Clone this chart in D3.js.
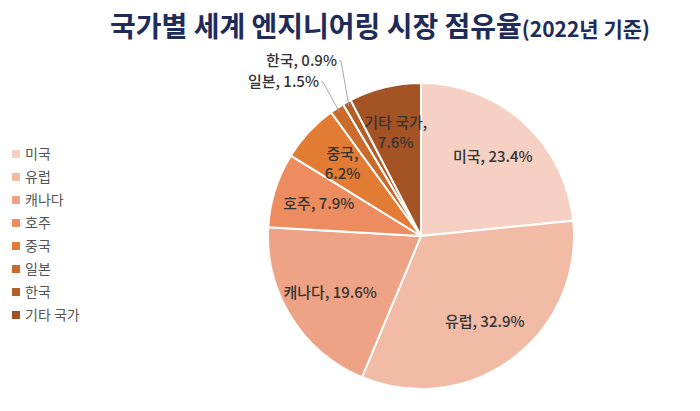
<!DOCTYPE html>
<html>
<head>
  <meta charset="utf-8">
  <script src="https://d3js.org/d3.v7.min.js"></script>
  <style>body{margin:0;background:#fff;font-family:"Noto Sans CJK KR",sans-serif;}</style>
</head>
<body>
  <div id="view"></div>
  <script>
    var categories = ["미국", "유럽", "캐나다", "호주", "중국", "일본", "한국", "기타 국가"];
    var values = [23.4, 32.9, 19.6, 7.9, 6.2, 1.5, 0.9, 7.6];
    var colors = ["#F6D1C3", "#F2BBA6", "#EEA386", "#EC8C5F", "#E27B33", "#CB6B2B", "#B35E27", "#A45424"];

    var width = 700, height = 411;
    var cx = 421, cy = 236, r = 153;

    var svg = d3.select("#view").append("svg")
      .attr("width", width).attr("height", height);

    svg.append("text").attr("x", 380).attr("y", 37).attr("text-anchor", "middle")
      .attr("fill", "#1F2B58").attr("font-size", 28).attr("font-weight", "bold")
      .text("국가별 세계 엔지니어링 시장 점유율")
      .append("tspan").attr("font-size", 21).text("(2022년 기준)");

    var data = categories.map(function (c, i) { return { name: c, value: values[i] }; });
    var pie = d3.pie().sort(null).value(function (d) { return d.value; });
    var arcs = pie(data);
    var arc = d3.arc().innerRadius(0).outerRadius(r);

    var g = svg.append("g").attr("transform", "translate(" + cx + "," + cy + ")");
    g.selectAll("path").data(arcs).enter().append("path")
      .attr("d", arc)
      .attr("fill", function (d, i) { return colors[i]; })
      .attr("stroke", "#fff").attr("stroke-width", 2);

    var inner = d3.arc().innerRadius(r * 0.7).outerRadius(r * 0.7);
    var twoLine = { "중국": 1, "기타 국가": 1 };
    arcs.forEach(function (d, i) {
      if (d.data.value < 2) return;
      var p = inner.centroid(d);
      var t = g.append("text").attr("text-anchor", "middle")
        .attr("fill", "#333").attr("font-size", 15).attr("font-weight", 500);
      var lbl = d.data.value.toFixed(1) + "%";
      if (twoLine[d.data.name]) {
        t.append("tspan").attr("x", p[0]).attr("y", p[1] - 4).text(d.data.name + ",");
        t.append("tspan").attr("x", p[0]).attr("y", p[1] + 16).text(lbl);
      } else {
        t.attr("x", p[0]).attr("y", p[1] + 5).text(d.data.name + ", " + lbl);
      }
    });

    // small slices: outside labels with leader lines
    var outer = [{ i: 5, tx: -102, ty: -149 }, { i: 6, tx: -84, ty: -170 }];
    outer.forEach(function (o) {
      var d = arcs[o.i];
      var a = (d.startAngle + d.endAngle) / 2;
      var ex = Math.sin(a) * (r - 4), ey = -Math.cos(a) * (r - 4);
      g.append("polyline")
        .attr("points", [[ex, ey], [o.tx + 4, o.ty - 5], [o.tx + 2, o.ty - 5]].join(" "))
        .attr("fill", "none").attr("stroke", "#aaa").attr("stroke-width", 1);
      g.append("text").attr("x", o.tx).attr("y", o.ty).attr("text-anchor", "end")
        .attr("fill", "#333").attr("font-size", 15).attr("font-weight", 500)
        .text(d.data.name + ", " + d.data.value.toFixed(1) + "%");
    });

    var legend = svg.append("g").attr("transform", "translate(12,154)");
    var ly = d3.scaleBand().domain(categories).range([0, 184]);
    categories.forEach(function (c, i) {
      var y = ly(c);
      legend.append("rect").attr("x", 0).attr("y", y - 4).attr("width", 8).attr("height", 8)
        .attr("fill", colors[i]);
      legend.append("text").attr("x", 13).attr("y", y + 5)
        .attr("fill", "#555").attr("font-size", 14).text(c);
    });
  </script>
</body>
</html>
